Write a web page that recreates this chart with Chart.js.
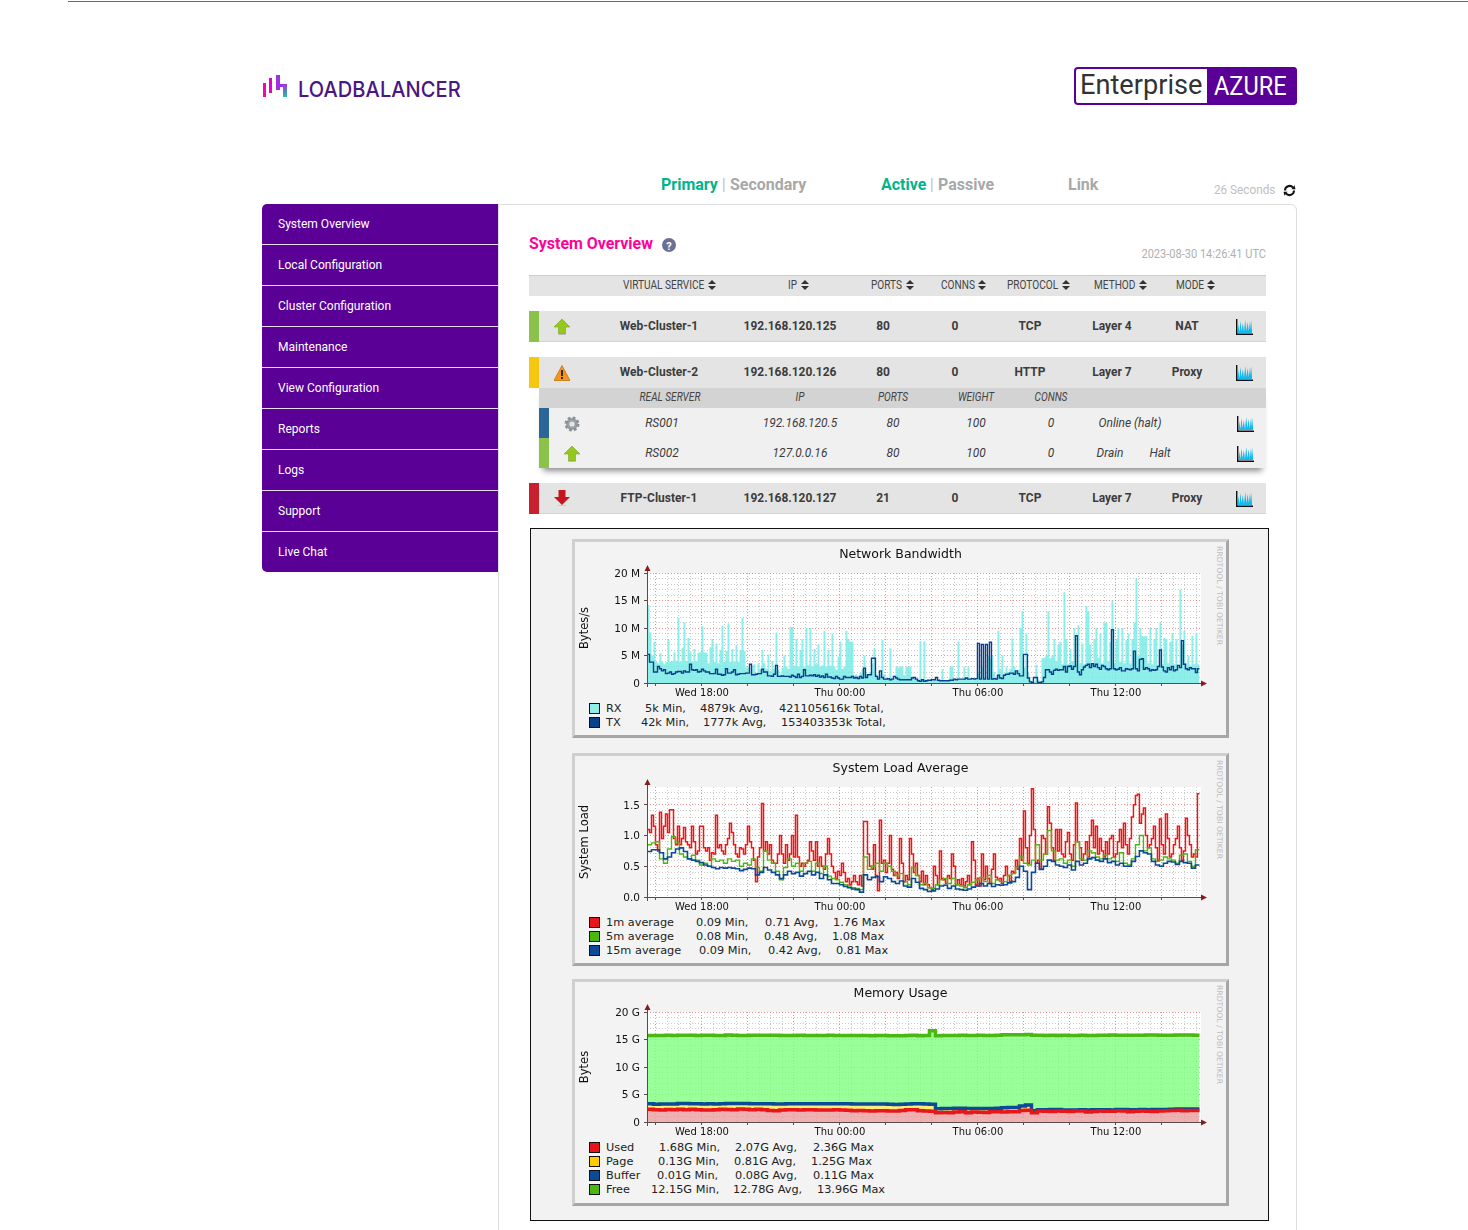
<!DOCTYPE html>
<html>
<head>
<meta charset="utf-8">
<title>System Overview</title>
<script src="https://cdn.jsdelivr.net/npm/chart.js@4"></script>
<style>
html, body { margin: 0; padding: 0; background: #fff; }
body { position: relative; width: 1468px; height: 1230px; overflow: hidden; font-family: Roboto, sans-serif; }
.t { position: absolute; white-space: pre; line-height: 1; }
.box { position: absolute; box-sizing: border-box; }
.leg { position: absolute; white-space: pre; font: 11.3px "DejaVu Sans", sans-serif; color: #222; line-height: 1; transform: translateY(-50%); margin-top: 1px; }
.rrd { position: absolute; writing-mode: vertical-rl; font: 7.7px "DejaVu Sans", sans-serif; color: #bdbdbd; white-space: pre; line-height: 1; }
canvas { position: absolute; }
svg { position: absolute; }
</style>
</head>
<body>
<script>
// page text
const navItems = ['System Overview', 'Local Configuration', 'Cluster Configuration', 'Maintenance', 'View Configuration', 'Reports', 'Logs', 'Support', 'Live Chat'];
const headerCols = [['VIRTUAL SERVICE', 623], ['IP', 788], ['PORTS', 871], ['CONNS', 941], ['PROTOCOL', 1007], ['METHOD', 1094], ['MODE', 1176]];
const serviceRows = [
  [326, 'Web-Cluster-1', '192.168.120.125', '80', '0', 'TCP', 'Layer 4', 'NAT'],
  [372, 'Web-Cluster-2', '192.168.120.126', '80', '0', 'HTTP', 'Layer 7', 'Proxy'],
  [498, 'FTP-Cluster-1', '192.168.120.127', '21', '0', 'TCP', 'Layer 7', 'Proxy'],
];
const serviceCols = [659, 790, 883, 955, 1030, 1112, 1187];
const realHead = [['REAL SERVER', 670], ['IP', 800], ['PORTS', 893], ['WEIGHT', 976], ['CONNS', 1051]];
const realRows = [
  [423, ['RS001', 662], ['192.168.120.5', 800], ['80', 893], ['100', 976], ['0', 1051], ['Online (halt)', 1130]],
  [453, ['RS002', 662], ['127.0.0.16', 800], ['80', 893], ['100', 976], ['0', 1051], ['Drain', 1110], ['Halt', 1160]],
];

// Network Bandwidth, M bytes/s
const rx = [
  14.2,9.2,5.0,7.5,3.8,3.6,5.4,3.8,3.4,3.8,
  7.8,3.8,4.0,5.6,4.0,11.8,3.8,6.4,11.0,4.0,
  8.2,5.6,3.8,6.2,4.0,5.5,5.6,10.3,5.6,5.5,
  3.6,6.5,8.0,3.8,7.2,3.6,6.0,10.4,3.8,5.8,
  10.8,3.8,6.2,3.8,6.8,3.8,6.0,11.8,5.8,2.8,
  2.8,1.6,3.2,3.4,1.8,3.6,2.4,6.0,3.6,2.6,
  5.2,2.2,4.0,2.6,9.2,2.4,1.6,2.8,5.0,3.0,
  2.6,10.2,10.2,3.2,8.0,3.0,6.0,8.0,3.0,10.0,
  3.2,10.0,3.0,6.2,3.4,7.0,3.0,3.2,9.5,3.0,
  6.0,3.2,9.0,3.0,2.4,4.8,7.5,2.6,3.0,9.5,
  8.0,7.5,7.5,1.4,1.6,1.2,1.8,2.5,5.0,1.6,
  1.4,2.0,3.6,6.3,1.6,1.2,1.4,7.8,1.6,1.0,
  0.8,6.3,0.8,0.7,3.0,2.8,3.0,3.0,1.4,3.0,
  3.0,3.0,1.2,0.8,0.6,0.7,7.6,0.6,7.6,0.6,
  0.5,0.6,0.4,0.6,0.5,0.5,0.6,2.5,0.5,0.4,
  0.6,3.0,3.0,0.4,0.4,7.5,0.6,0.7,3.0,0.6,
  3.0,0.8,0.5,0.6,0.7,2.0,0.8,3.0,1.0,0.7,
  5.0,4.4,5.0,2.0,1.0,9.5,2.5,5.0,1.6,3.0,
  2.0,2.6,8.1,3.0,1.8,2.4,10.0,13.0,2.8,9.0,
  1.8,0.5,0.3,0.2,3.3,0.6,0.4,4.5,4.6,5.0,
  13.0,4.5,5.0,8.0,4.0,7.0,7.5,3.4,16.5,8.0,
  3.4,6.2,4.0,10.0,3.4,10.5,3.6,7.2,3.4,14.0,
  13.0,7.0,3.4,8.0,10.0,4.6,9.0,3.6,11.0,11.0,
  4.0,7.5,15.0,3.6,8.0,10.0,3.8,10.0,3.6,7.8,
  9.0,3.6,8.0,11.0,19.0,5.0,10.0,8.5,8.5,8.5,
  3.6,10.0,3.4,8.0,10.0,3.2,11.0,3.4,8.2,8.0,
  3.6,7.5,9.0,3.4,8.0,3.0,17.0,7.0,9.5,3.6,
  5.0,3.2,8.6,3.4,9.0,3.4,
];
const tx = [
  5.2,3.8,3.8,2.0,2.0,3.0,2.6,2.2,2.4,1.7,
  1.8,2.0,1.6,1.7,2.0,2.1,2.1,1.8,2.2,2.0,
  2.0,3.4,2.4,2.3,2.4,2.0,2.1,2.5,2.2,2.0,
  2.0,1.7,1.7,1.7,2.5,1.6,1.6,1.4,1.5,2.6,
  1.8,1.8,2.0,2.4,1.5,1.6,1.7,1.7,1.7,1.8,
  1.8,3.4,1.5,1.5,1.6,1.7,1.7,2.5,2.0,2.0,
  1.3,1.3,1.2,1.6,3.2,1.2,1.2,1.3,1.2,1.2,
  1.2,1.1,1.4,1.2,1.0,1.6,1.0,1.2,2.4,1.3,
  1.3,1.4,1.3,1.5,1.2,1.4,1.1,1.3,1.0,1.6,
  1.1,1.1,0.9,0.8,1.2,0.9,0.7,0.7,1.2,1.0,
  1.0,1.0,1.2,0.9,1.0,0.8,1.2,0.9,2.7,1.0,
  1.5,1.5,4.5,4.5,1.2,0.7,2.2,1.0,0.7,0.7,
  0.8,0.6,0.7,1.2,0.9,0.7,0.6,0.6,0.6,0.6,
  0.6,0.6,0.9,1.0,0.7,0.4,0.3,0.6,0.3,0.4,
  0.5,0.5,0.6,0.6,1.0,0.5,0.4,0.4,0.4,0.4,
  0.4,0.5,0.5,0.7,0.6,0.7,0.7,0.7,0.7,0.9,
  0.7,0.7,0.8,0.7,0.8,7.2,0.7,7.0,0.7,7.0,
  0.7,7.4,0.7,0.8,0.7,1.4,0.9,0.8,1.4,1.6,
  1.6,1.8,1.8,1.6,2.2,1.7,1.3,1.3,5.2,5.2,
  0.9,0.2,0.1,1.0,1.0,0.1,0.1,0.2,1.0,2.4,
  2.4,2.0,1.6,2.3,2.5,2.3,2.4,2.4,3.0,2.0,
  3.0,3.1,2.5,3.0,8.6,2.0,1.5,2.4,2.9,3.2,
  3.4,2.8,3.5,3.0,3.4,2.8,2.5,3.2,3.0,2.6,
  2.4,2.6,9.7,2.6,2.4,2.5,2.8,2.2,2.2,2.6,
  2.5,2.4,2.6,5.8,2.6,2.2,4.3,4.4,2.5,2.8,
  2.6,2.2,2.4,2.3,2.4,3.0,6.0,2.9,2.2,2.0,
  2.8,2.4,3.0,2.2,2.4,3.2,2.8,7.7,3.4,2.6,
  2.4,2.8,2.6,2.6,1.9,2.6,
];

// System Load Average
const load1 = [
  1.10,1.05,1.33,1.15,0.85,0.75,1.38,0.95,1.15,1.35,
  1.05,1.42,1.42,0.95,0.85,1.15,0.85,0.95,1.13,0.90,
  0.85,0.80,1.15,0.90,0.70,0.75,1.15,1.15,0.80,0.75,
  0.80,0.60,0.72,0.70,1.33,0.80,0.85,0.75,0.70,0.85,
  0.95,1.20,1.05,0.85,0.70,0.65,0.80,0.78,0.70,0.85,
  1.15,0.90,0.80,0.60,0.25,0.65,0.80,1.52,0.75,0.90,
  0.70,0.85,0.60,0.55,0.55,0.70,1.00,0.70,0.55,0.85,
  0.60,0.70,1.00,0.65,1.33,0.65,0.50,0.55,0.50,0.55,
  0.60,0.90,0.75,0.60,0.90,0.50,0.65,0.50,0.45,0.70,
  0.95,0.70,0.50,0.40,0.30,0.42,0.35,0.55,0.40,0.25,
  0.30,0.20,0.25,0.35,0.25,0.20,0.35,0.18,1.23,1.23,
  0.70,0.50,0.45,0.85,0.35,0.10,1.25,0.55,0.60,0.40,
  0.55,1.00,0.45,0.35,0.40,0.30,0.95,0.55,0.25,0.35,
  0.28,0.95,0.70,0.40,0.55,0.35,0.25,0.42,0.20,0.35,
  0.20,0.15,0.12,0.50,0.35,0.20,0.75,0.30,0.28,0.22,
  0.35,0.30,0.70,0.50,0.20,0.28,0.20,0.30,0.18,0.25,
  0.35,0.20,0.90,0.60,0.20,0.30,0.18,0.70,0.28,0.50,
  0.30,0.22,0.45,0.70,0.32,0.28,0.30,0.22,0.35,0.50,
  0.35,0.25,0.42,0.40,0.60,0.45,0.95,0.60,1.40,0.80,
  0.55,1.00,1.76,1.10,0.55,0.60,0.45,1.00,0.95,0.70,
  1.47,1.20,0.80,0.60,1.10,0.75,1.10,0.70,0.65,0.90,
  1.05,0.70,0.60,0.85,1.53,0.90,0.80,0.60,0.70,0.90,
  0.65,1.00,1.25,0.80,1.15,0.70,0.95,0.75,0.65,0.90,
  0.70,0.95,1.00,0.65,0.70,0.90,1.10,0.80,1.20,0.85,
  0.70,0.95,1.30,1.50,1.65,1.67,1.20,1.35,1.45,1.00,
  0.80,0.85,0.95,1.15,0.80,0.60,1.27,0.85,0.70,1.35,
  0.95,0.65,0.70,0.85,0.95,1.15,0.80,0.60,0.75,1.28,
  1.00,0.85,0.65,0.70,0.65,1.68,
];
const load5 = [
  .85,.88,.90,.62,.55,.78,.98,.88,.70,.65,
  .62,.68,.60,.52,.55,.50,.62,.58,.60,.55,
  .62,.58,.60,.50,.55,.52,.62,.48,.42,.75,
  .60,.55,.42,.28,.48,.62,.50,.55,.42,.55,
  .58,.42,.55,.38,.50,.34,.30,.28,.24,.20,
  .18,.15,.14,.12,.65,.45,.50,.55,.42,.55,
  .50,.42,.35,.38,.25,.20,.48,.35,.20,.22,
  .15,.14,.20,.28,.30,.22,.30,.20,.18,.15,
  .20,.24,.28,.32,.25,.35,.22,.28,.25,.25,
  .35,.38,.48,.65,.55,.52,.60,.85,.60,.70,
  1.08,.75,.60,.62,.55,.60,.50,.90,.62,.60,
  .75,.72,.65,.62,.68,.62,.64,.58,.72,.55,
  .52,.62,.85,1.00,.75,.80,.62,.58,.60,.65,
  .62,.60,.55,.68,.70,.58,.50,.77,
];
const load15 = [
  .74,.77,.77,.72,.62,.65,.72,.78,.80,.74,
  .62,.60,.58,.56,.52,.50,.48,.46,.48,.47,
  .48,.47,.46,.43,.45,.47,.46,.36,.40,.48,
  .44,.40,.36,.30,.36,.42,.38,.40,.34,.38,
  .42,.36,.40,.30,.36,.28,.22,.22,.20,.17,
  .15,.13,.12,.08,.36,.28,.32,.33,.25,.33,
  .30,.25,.22,.26,.18,.16,.30,.24,.14,.12,
  .09,.10,.13,.18,.19,.14,.18,.13,.12,.11,
  .13,.16,.18,.22,.18,.22,.17,.20,.19,.20,
  .23,.25,.32,.50,.42,.12,.40,.55,.45,.50,
  .60,.58,.52,.50,.48,.52,.44,.58,.52,.55,
  .62,.64,.60,.58,.62,.56,.58,.52,.55,.50,
  .50,.58,.66,.75,.72,.70,.58,.52,.50,.55,
  .58,.57,.53,.58,.56,.55,.47,.52,
];

// Memory Usage, G bytes, stacked
const memUsed = [
  2.30,2.25,2.20,2.28,2.25,2.30,2.22,2.32,2.25,2.20,
  2.20,2.25,2.30,2.28,2.22,2.36,2.30,2.25,2.30,2.22,
  2.10,2.05,2.20,2.25,2.25,2.20,2.25,2.25,2.18,2.20,
  2.20,2.25,2.20,2.15,2.05,2.10,2.05,2.00,2.05,2.05,
  2.00,2.00,2.10,2.25,2.25,2.05,2.00,1.95,1.70,1.75,
  1.70,1.80,1.85,1.70,1.80,1.78,1.72,1.85,1.85,1.80,
  1.85,1.85,2.10,2.15,1.70,2.00,1.95,1.90,2.00,1.95,
  1.90,2.00,2.00,1.80,1.90,2.00,1.95,1.95,2.05,2.00,
  1.85,1.95,2.00,1.95,1.90,2.00,2.05,2.10,2.15,2.05,
  2.10,2.10,
];
const memPage = [
  0.95,0.90,1.00,0.92,0.95,0.98,1.05,0.90,0.98,1.00,
  1.02,0.95,0.92,0.98,1.05,0.90,0.98,0.98,0.92,1.00,
  1.12,1.15,1.00,0.98,0.95,1.02,0.98,0.98,1.05,1.02,
  1.02,0.98,1.02,1.05,1.15,1.10,1.15,1.18,1.12,1.12,
  1.15,1.10,1.05,0.95,0.98,1.15,1.18,1.20,0.62,0.62,
  0.68,0.62,0.55,0.70,0.60,0.62,0.68,0.55,0.60,0.72,
  0.70,0.72,0.75,0.85,0.25,0.18,0.22,0.30,0.20,0.18,
  0.25,0.15,0.20,0.30,0.25,0.15,0.20,0.18,0.15,0.20,
  0.30,0.22,0.18,0.22,0.28,0.18,0.15,0.15,0.15,0.22,
  0.20,0.18,
];
const memBuffer = [
  0.08,0.08,0.09,0.09,0.09,0.09,0.09,0.09,0.10,0.09,
  0.09,0.09,0.09,0.09,0.09,0.09,0.10,0.09,0.09,0.09,
  0.09,0.09,0.09,0.09,0.10,0.09,0.09,0.09,0.09,0.09,
  0.09,0.09,0.09,0.10,0.09,0.09,0.09,0.09,0.09,0.09,
  0.09,0.09,0.09,0.09,0.09,0.10,0.09,0.09,0.08,0.08,
  0.08,0.08,0.08,0.07,0.07,0.07,0.07,0.07,0.07,0.07,
  0.07,0.07,0.07,0.08,0.08,0.06,0.05,0.06,0.06,0.06,
  0.05,0.05,0.05,0.06,0.06,0.07,0.06,0.07,0.07,0.07,
  0.07,0.08,0.08,0.08,0.08,0.08,0.08,0.08,0.08,0.08,
  0.08,0.08,
];
const memFree = [
  12.42,12.50,12.45,12.48,12.45,12.40,12.42,12.45,12.42,12.50,
  12.47,12.45,12.40,12.45,12.42,12.40,12.36,12.45,12.48,12.45,
  12.45,12.48,12.45,12.40,12.42,12.45,12.42,12.42,12.42,12.42,
  12.45,12.42,12.42,12.45,12.45,12.45,12.45,12.42,12.46,12.45,
  12.42,12.50,12.45,12.42,12.45,12.40,12.45,13.36,13.30,13.30,
  13.25,13.25,13.28,13.25,13.28,13.30,13.28,13.25,13.25,13.28,
  13.25,13.22,12.95,12.82,13.75,13.55,13.50,13.52,13.48,13.60,
  13.55,13.55,13.52,13.55,13.52,13.55,13.55,13.60,13.50,13.50,
  13.55,13.52,13.52,13.55,13.55,13.52,13.50,13.45,13.42,13.45,
  13.42,13.42,
];

// legend rows: swatch colour, then [text, left edge]
const netLegend = [
  [708, '#8fefe9', ['RX', 606], ['5k Min,', 645], ['4879k Avg,', 700], ['421105616k Total,', 779]],
  [722, '#0a3f8c', ['TX', 606], ['42k Min,', 641], ['1777k Avg,', 703], ['153403353k Total,', 781]],
];
const loadLegend = [
  [922, '#e6161a', ['1m average', 606], ['0.09 Min,', 696], ['0.71 Avg,', 765], ['1.76 Max', 833]],
  [936, '#4ab811', ['5m average', 606], ['0.08 Min,', 696], ['0.48 Avg,', 764], ['1.08 Max', 832]],
  [950, '#0a4a96', ['15m average', 606], ['0.09 Min,', 699], ['0.42 Avg,', 768], ['0.81 Max', 836]],
];
const memLegend = [
  [1147, '#e6161a', ['Used', 606], ['1.68G Min,', 659], ['2.07G Avg,', 735], ['2.36G Max', 813]],
  [1161, '#ffcc00', ['Page', 606], ['0.13G Min,', 658], ['0.81G Avg,', 734], ['1.25G Max', 811]],
  [1175, '#0a4a96', ['Buffer', 606], ['0.01G Min,', 657], ['0.08G Avg,', 735], ['0.11G Max', 813]],
  [1189, '#4ab811', ['Free', 606], ['12.15G Min,', 651], ['12.78G Avg,', 733], ['13.96G Max', 817]],
];

// time axis in hours from Wed 18:00
const xMin = -2.39, xMax = 21.7, sampleHours = 24;
const timeLabels = { 0: 'Wed 18:00', 6: 'Thu 00:00', 12: 'Thu 06:00', 18: 'Thu 12:00' };
// half a pixel of the 23 px/hour axis keeps the one pixel steps crisp
const sampleStart = xMin + 0.5 / 23;

const COND = 0.86;

function box(x, y, w, h, css) {
  const d = document.createElement('div');
  d.className = 'box';
  d.style.cssText = `left:${x}px;top:${y}px;width:${w}px;height:${h}px;${css || ''}`;
  document.body.appendChild(d);
  return d;
}

// align: l, c or r; squeeze narrows Roboto to the condensed look of the original
function txt(x, y, s, css, align, squeeze) {
  const d = document.createElement('div');
  d.className = 't';
  d.textContent = s;
  const k = squeeze || COND;
  const tx0 = align === 'c' ? '-50%' : align === 'r' ? '-100%' : '0';
  const origin = align === 'c' ? 'center' : align === 'r' ? 'right' : 'left';
  d.style.cssText = `left:${x}px;top:${y}px;transform:translate(${tx0},-50%) scaleX(${k});transform-origin:${origin} center;${css || ''}`;
  document.body.appendChild(d);
  return d;
}

function svg(x, y, w, h, inner) {
  const wrap = document.createElement('div');
  wrap.innerHTML = `<svg xmlns="http://www.w3.org/2000/svg" style="left:${x}px;top:${y}px" width="${w}" height="${h}" viewBox="0 0 ${w} ${h}">${inner}</svg>`;
  document.body.appendChild(wrap.firstChild);
}

const sortIcon = (x, y) => svg(x, y - 5, 8, 10, '<path d="M4 0L8 4H0Z M4 10L0 6H8Z" fill="#333"/>');
const upIcon = (x, y) => svg(x - 8, y - 8, 16, 16, '<path d="M8 0L16 8H11.5V15H4.5V8H0Z" fill="#94c81e" stroke="#7aa81a" stroke-width=".6"/><path d="M4.5 15H11.5V16H4.5Z" fill="#bbb"/>');
const downIcon = (x, y) => svg(x - 8, y - 8, 16, 16, '<path d="M4.5 0H11.5V7H16L8 15L0 7H4.5Z" fill="#c4161c"/><path d="M4 15.4H12V16H4Z" fill="#bbb"/>');
const warnIcon = (x, y) => svg(x - 8, y - 8, 16, 16, '<path d="M8 .5L16 15.5H0Z" fill="#f7941d" stroke="#c87408" stroke-width=".8"/><rect x="7" y="5" width="2" height="6" fill="#3a2a10"/><rect x="7" y="12" width="2" height="2" fill="#3a2a10"/>');
const gearIcon = (x, y) => svg(x - 8, y - 8, 16, 16, '<circle cx="8" cy="8" r="6" fill="#9aa0a6" stroke="#8a9096" stroke-width="3" stroke-dasharray="2.6 2.1"/><circle cx="8" cy="8" r="2.6" fill="#e4e6e8"/>');
const graphIcon = (x, y) => svg(x, y, 17, 16, '<path d="M1.5 14L2.2 5L3.4 13L4.4 2L5.6 12L6.8 4L8 13L9.2 1L10.4 12L11.6 3L12.8 12L14 2L15 11L16 1V14Z" fill="#1ab8ea"/><path d="M.7 0V15.2H17" fill="none" stroke="#111" stroke-width="1.4"/>');

/* page frame */
box(68, 1, 1400, 1, 'background:#6b6b6b');
// logo
box(262.7, 83, 3.4, 14, 'background:#ff00b0');
box(269.3, 78, 3, 15, 'background:#e000d0');
box(275.7, 75, 4, 15, 'background:#a030e0');
box(279, 84, 7, 2.5, 'background:#a030e0');
box(282.7, 84, 4, 13, 'background:linear-gradient(#a030e0,#20c0b0)');
txt(298, 89, 'LOADBALANCER', 'font:500 22px Inter, sans-serif;color:#4b1583;letter-spacing:.1px', 'l', .91);
// edition badge
box(1074, 67, 223, 38, 'border:2px solid #5a0096;border-radius:4px;background:#fff');
box(1207, 67, 90, 38, 'background:#5a0096;border-radius:0 4px 4px 0');
txt(1080, 84, 'Enterprise', 'font:28px Roboto, sans-serif;color:#333', 'l', .97);
txt(1214, 86, 'AZURE', 'font:25px Roboto, sans-serif;color:#fff', 'l', .94);

// cluster status
const statusGreen = 'font:bold 17px Roboto, sans-serif;color:#00b48c';
const statusGrey = 'font:bold 17px Roboto, sans-serif;color:#a8a8a8';
txt(661, 184, 'Primary', statusGreen, 'l', .94);
txt(722, 184, '|', 'font:17px Roboto, sans-serif;color:#bbb');
txt(730, 184, 'Secondary', statusGrey, 'l', .94);
txt(881, 184, 'Active', statusGreen, 'l', .94);
txt(930, 184, '|', 'font:17px Roboto, sans-serif;color:#bbb');
txt(938, 184, 'Passive', statusGrey, 'l', .94);
txt(1068, 184, 'Link', statusGrey, 'l', .94);
txt(1214, 189, '26 Seconds', 'font:12.5px Roboto, sans-serif;color:#c0c0c0', 'l', .94);
svg(1283, 184, 13, 13, '<path d="M2 6.5A4.5 4.5 0 0 1 10 3.6" fill="none" stroke="#111" stroke-width="2"/><path d="M11 6.5A4.5 4.5 0 0 1 3 9.4" fill="none" stroke="#111" stroke-width="2"/><path d="M8.5 5.2L12.5 5.2L11.5 1.2Z M4.5 7.8L.5 7.8L1.5 11.8Z" fill="#111"/>');

// main panel and menu
box(498, 204, 799, 1040, 'border:1px solid #ddd;border-radius:0 6px 0 0;background:#fff');
box(262, 204, 236, 368, 'background:#5a0096;border-radius:5px 0 0 5px');
navItems.forEach((item, i) => {
  if (i) box(262, 204 + 41 * i - 1, 236, 1, 'background:#e8dcf2');
  txt(278, 223 + 41 * i, item, 'font:13px Roboto, sans-serif;color:#fff', 'l', .925);
});

txt(529, 243, 'System Overview', 'font:bold 17px Roboto, sans-serif;color:#ff0099', 'l', .937);
box(662, 238, 14, 14, 'border-radius:50%;background:#6c7090');
txt(669, 245.5, '?', 'font:bold 11px Roboto, sans-serif;color:#fff', 'c', 1);
txt(1266, 254, '2023-08-30 14:26:41 UTC', 'font:12px Roboto, sans-serif;color:#b0b0b0', 'r', .92);

/* services table */
box(529, 275, 737, 21, 'background:#e4e4e4;border-top:1px solid #ccc');
const headFont = 'font:12px Roboto, sans-serif;color:#444';
headerCols.forEach(c => {
  const el = txt(c[1], 285, c[0], headFont, 'l', .84);
  sortIcon(c[1] + el.offsetWidth * .84 + 3.5, 285);
});

box(529, 311, 737, 31, 'background:#e4e4e4;border-bottom:1px solid #d4d4d4');
box(529, 357, 737, 31, 'background:#e4e4e4');
box(529, 483, 737, 31, 'background:#e4e4e4;border-bottom:1px solid #d4d4d4');
box(539, 388, 727, 80, 'background:#f0f0f0;box-shadow:0 7px 6px -4px rgba(0,0,0,.45)');
box(539, 388, 727, 20, 'background:#d3d3d3');
box(529, 311, 10, 31, 'background:#8bc34a');
box(529, 357, 10, 31, 'background:#f5c80f');
box(529, 483, 10, 31, 'background:#c8202f');
box(539, 408, 10, 30, 'background:#2a6698');
box(539, 438, 10, 30, 'background:#8bc34a');

serviceRows.forEach(r => {
  serviceCols.forEach((x, i) => txt(x, r[0] - 1, r[i + 1], 'font:bold 13px Roboto, sans-serif;color:#3c3c3c', 'c', .92));
  graphIcon(1236, r[0] - 7);
});
upIcon(562, 327);
warnIcon(562, 373);
downIcon(562, 498);
realHead.forEach(c => txt(c[1], 397, c[0], 'font:italic 12px Roboto, sans-serif;color:#444', 'c', .84));
realRows.forEach(r => {
  r.slice(1).forEach(c => txt(c[1], r[0] - 1, c[0], 'font:italic 13px Roboto, sans-serif;color:#3c3c3c', 'c', .92));
  graphIcon(1237, r[0] - 7);
});
gearIcon(572, 424);
upIcon(572, 454);

/* graph frame */
box(530, 528, 739, 693, 'border:1px solid #111;background:#f2f2f2');
const panelBorder = 'border-style:solid;border-width:3px;border-color:#cfcfcf #a6a6a6 #a6a6a6 #cfcfcf;background:#f3f3f3';
box(572, 539, 657, 199, panelBorder);
box(572, 753, 657, 213, panelBorder);
box(572, 979, 657, 227, panelBorder);

function rrdMark(y) {
  const d = document.createElement('div');
  d.className = 'rrd';
  d.textContent = 'RRDTOOL / TOBI OETIKER';
  d.style.left = '1215px';
  d.style.top = y + 'px';
  document.body.appendChild(d);
}
rrdMark(546);
rrdMark(760);
rrdMark(985);

function legend(rows) {
  rows.forEach(r => {
    box(589, r[0] - 5, 11, 11, `background:${r[1]};border:1px solid #111`);
    r.slice(2).forEach(c => {
      const s = document.createElement('div');
      s.className = 'leg';
      s.textContent = c[0];
      s.style.left = c[1] + 'px';
      s.style.top = r[0] + 'px';
      document.body.appendChild(s);
    });
  });
}
legend(netLegend);
legend(loadLegend);
legend(memLegend);

/* charts */
Chart.defaults.font.family = '"DejaVu Sans", sans-serif';
Chart.defaults.color = '#222';
Chart.defaults.devicePixelRatio = 1;

const RED = 'rgba(228,80,80,.62)';
const GREY = 'rgba(90,90,90,.32)';

// white plot area, axes drawn past the plot and their small arrow heads
const rrdFrame = {
  id: 'rrdFrame',
  afterLayout(c) {
    // title stays centred on the whole canvas, not on the padded part
    c.titleBlock.right = c.width;
  },
  beforeDraw(c) {
    const a = c.chartArea;
    c.ctx.fillStyle = '#fff';
    c.ctx.fillRect(a.left, a.top, a.right - a.left, a.bottom - a.top);
  },
  afterDraw(c) {
    const a = c.chartArea, g = c.ctx;
    g.save();
    g.strokeStyle = '#5a4a4a';
    g.lineWidth = 1;
    g.beginPath();
    g.moveTo(a.left + .5, a.bottom + 4);
    g.lineTo(a.left + .5, a.top - 4);
    g.moveTo(a.left - 2, a.bottom + .5);
    g.lineTo(a.right + 3, a.bottom + .5);
    g.stroke();
    g.fillStyle = '#8b1a1a';
    g.beginPath();
    g.moveTo(a.left + .5, a.top - 8);
    g.lineTo(a.left + 3.5, a.top - 2);
    g.lineTo(a.left - 2.5, a.top - 2);
    g.moveTo(a.right + 6, a.bottom + .5);
    g.lineTo(a.right, a.bottom + 3.5);
    g.lineTo(a.right, a.bottom - 2.5);
    g.fill();
    g.restore();
  },
};

// one point per sample, the last repeated so its step reaches the end of the day
const toPoints = values => [...values, values[values.length - 1]].map((y, i) => ({ x: sampleStart + i * sampleHours / values.length, y }));

function series(label, values, color, width, fill, area) {
  return {
    label,
    data: toPoints(values),
    borderColor: color,
    borderWidth: width,
    backgroundColor: area || 'transparent',
    fill: fill || false,
    stepped: true,
    pointRadius: 0,
    tension: 0,
  };
}

function makeChart(id, top, title, yTitle, datasets, yOpts, yLabel) {
  const canvas = document.createElement('canvas');
  canvas.id = id;
  canvas.width = 651;
  canvas.height = 160;
  canvas.style.cssText = `left:575px;top:${top - 31}px;width:651px;height:160px`;
  document.body.appendChild(canvas);
  return new Chart(canvas, {
    type: 'line',
    data: { datasets },
    plugins: [rrdFrame],
    options: {
      responsive: false,
      animation: false,
      layout: { padding: { right: 25 } },
      plugins: {
        legend: { display: false },
        tooltip: { enabled: false },
        // all areas first, so no fill covers a neighbouring line
        filler: { drawTime: 'beforeDatasetsDraw' },
        title: {
          display: true,
          text: title,
          color: '#111',
          font: { size: 12.5, weight: 'normal', lineHeight: 1.04 },
          padding: { top: 6, bottom: 12 },
        },
      },
      scales: {
        x: {
          type: 'linear',
          min: xMin,
          max: xMax,
          afterFit(s) { s.height = 19; },
          border: { display: false, dash: [1, 2] },
          grid: {
            color: ctx => (ctx.tick && ctx.tick.value % 2 === 0 ? RED : GREY),
            tickColor: ctx => (ctx.tick && ctx.tick.value % 2 === 0 ? '#5a4a4a' : 'transparent'),
            tickLength: 3,
            offset: false,
          },
          ticks: {
            stepSize: 0.5,
            includeBounds: false,
            autoSkip: false,
            maxRotation: 0,
            padding: 1,
            font: { size: 10 },
            color: '#111',
            callback: v => timeLabels[v] || '',
          },
        },
        y: {
          min: 0,
          max: yOpts.max,
          stacked: !!yOpts.stacked,
          afterFit(s) { s.width = 72; },
          border: { display: false, dash: [1, 2] },
          title: { display: true, text: yTitle, color: '#111', font: { size: 11.5, lineHeight: 1.2 }, padding: { top: 3, bottom: 0 } },
          grid: {
            color: ctx => (ctx.tick && yOpts.isMajor(ctx.tick.value) ? RED : GREY),
            tickColor: ctx => (ctx.tick && yOpts.isMajor(ctx.tick.value) ? '#5a4a4a' : 'transparent'),
            tickLength: 3,
          },
          ticks: {
            stepSize: yOpts.step,
            includeBounds: false,
            autoSkip: false,
            padding: 4,
            labelOffset: 1,
            font: { size: 10.5 },
            color: '#111',
            callback: v => (yOpts.isMajor(v) ? yLabel(v) : ''),
          },
        },
      },
    },
  });
}

const unitMajor = v => v % 5 === 0;

makeChart('netChart', 573, 'Network Bandwidth', 'Bytes/s', [
  series('TX', tx, '#0a3f8c', 1.4),
  series('RX', rx, 'rgba(122,235,230,.85)', 0, 'origin', 'rgba(122,235,230,.85)'),
], { max: 20, step: 1, isMajor: unitMajor }, v => (v ? v + ' M' : '0'));

makeChart('loadChart', 787, 'System Load Average', 'System Load', [
  series('15m average', load15, '#0a4a96', 1.6),
  series('5m average', load5, '#4ab811', 1.4),
  series('1m average', load1, '#f01414', 1.5),
], { max: 1.79, step: 0.1, isMajor: v => Math.round(v * 10) % 5 === 0 }, v => v.toFixed(1));

// stacking follows dataset order: used at the bottom, free on top
makeChart('memChart', 1012, 'Memory Usage', 'Bytes', [
  series('Used', memUsed, '#e6161a', 3.5, 'origin', 'rgba(232,150,150,.75)'),
  series('Page', memPage, 'transparent', 0, '-1', 'rgba(255,234,96,.85)'),
  series('Buffer', memBuffer, '#0a4a96', 3.5, '-1', 'transparent'),
  series('Free', memFree, '#4ab811', 3.5, '-1', 'rgba(128,255,128,.8)'),
], { max: 20, step: 1, stacked: true, isMajor: unitMajor }, v => (v ? v + ' G' : '0'));
</script>
</body>
</html>
